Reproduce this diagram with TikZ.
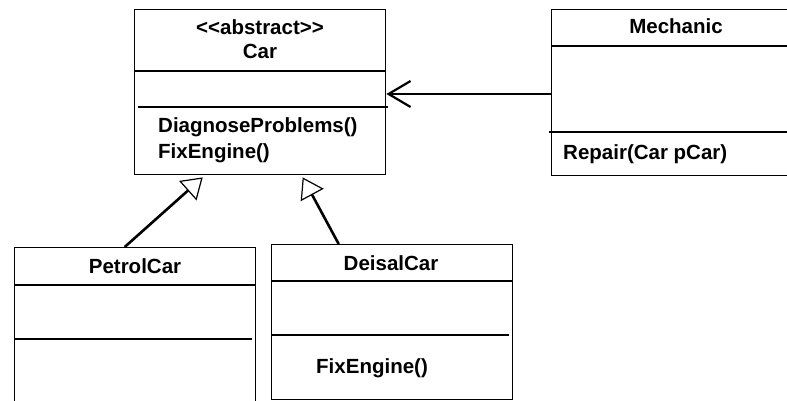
\documentclass[tikz,border=0pt]{standalone}
\usepackage{fontspec}
\setmainfont{Liberation Sans}
\usetikzlibrary{arrows.meta}
\begin{document}
\begin{tikzpicture}[x=1pt,y=-1pt,
  classbox/.style={draw=black,line width=1.4pt,rectangle,inner sep=0pt,anchor=north west},
  sepline/.style={draw=black,line width=1.2pt},
  lbl/.style={font=\fontsize{20.5}{24}\selectfont\bfseries,inner sep=0pt},
  assoc/.style={line width=2.6pt,-{Straight Barb[length=22pt,width=26pt,line width=2.2pt]}},
  gen/.style={line width=2.6pt,-{Triangle[open,length=20pt,width=26pt,line width=1.2pt,fill=white]}}]
\useasboundingbox (0,0) rectangle (787,401);
\clip (0,0) rectangle (787,401);
% Car
\node[classbox,minimum width=251pt,minimum height=165pt] (car) at (134,9) {};
\draw[sepline] (134,71) -- (385,71);
\draw[sepline] (138,107) -- (388,107);
\node[lbl,anchor=base] (carst) at (260,35) {<\kern0pt<abstract>\kern0pt>};
\node[lbl,anchor=base] (carname) at (260,59) {Car};
\node[lbl,anchor=base west] (carm1) at (158,133) {DiagnoseProblems()};
\node[lbl,anchor=base west] (carm2) at (158,158) {FixEngine()};
% Mechanic
\node[classbox,minimum width=237pt,minimum height=166pt] (mech) at (551,9) {};
\draw[sepline] (551,46) -- (787,46);
\draw[sepline] (549,132) -- (787,132);
\node[lbl,anchor=base] (mechname) at (676,34) {Mechanic};
\node[lbl,anchor=base west] (mechm1) at (563,160) {Repair(Car pCar)};
% PetrolCar
\node[classbox,minimum width=241pt,minimum height=180pt] (petrol) at (14,247) {};
\draw[sepline] (14,285) -- (255,285);
\draw[sepline] (14,339) -- (252,339);
\node[lbl,anchor=base] (petrolname) at (135,273) {PetrolCar};
% DeisalCar
\node[classbox,minimum width=241pt,minimum height=155pt] (deisal) at (271,244) {};
\draw[sepline] (271,281) -- (512,281);
\draw[sepline] (271,335) -- (509,335);
\node[lbl,anchor=base] (deisalname) at (391,270) {DeisalCar};
\node[lbl,anchor=base west] (deisalm1) at (316,373) {FixEngine()};
% connectors
\draw[assoc] (mech.west |- 0,94) -- (car.east |- 0,94);
\draw[gen] ([xshift=-10.5pt]petrol.north) -- ([xshift=-57.5pt,yshift=-2pt]car.south);
\draw[gen] ([xshift=-53.5pt]deisal.north) -- ([xshift=42.5pt,yshift=-2pt]car.south);
\end{tikzpicture}
\end{document}
